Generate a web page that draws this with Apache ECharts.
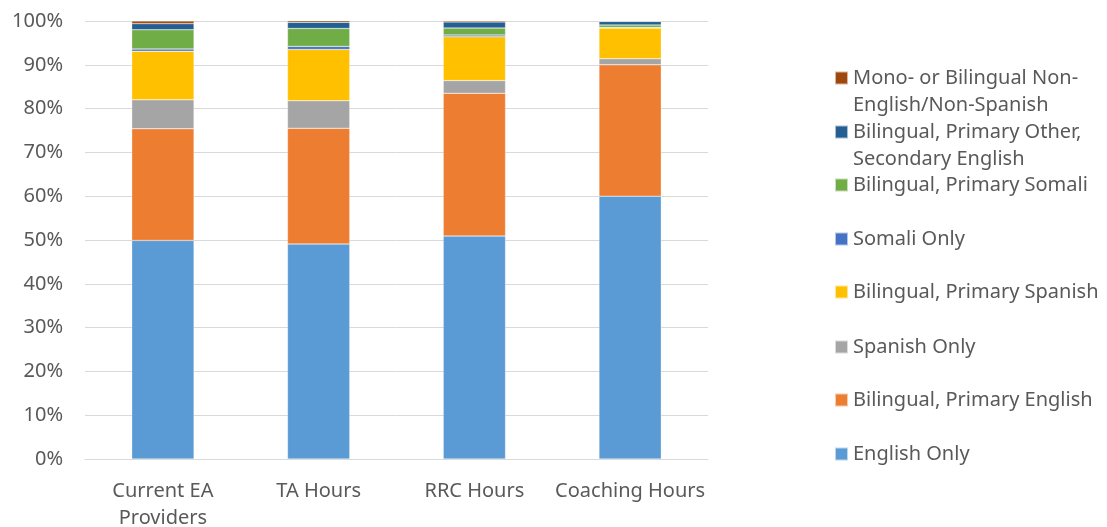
<!DOCTYPE html>
<html>
<head>
<meta charset="utf-8">
<script src="https://cdn.jsdelivr.net/npm/echarts@6/dist/echarts.min.js"></script>
<style>
html,body{margin:0;padding:0;background:#fff;}
#chart{width:1107px;height:527px;}
</style>
</head>
<body>
<div id="chart"></div>
<script>
var categories = ['Current EA\nProviders', 'TA Hours', 'RRC Hours', 'Coaching Hours'];
var seriesNames = ['English Only', 'Bilingual, Primary English', 'Spanish Only', 'Bilingual, Primary Spanish',
  'Somali Only', 'Bilingual, Primary Somali', 'Bilingual, Primary Other,\nSecondary English',
  'Mono- or Bilingual Non-\nEnglish/Non-Spanish'];
var colors = ['#5B9BD5', '#ED7D31', '#A5A5A5', '#FFC000', '#4472C4', '#70AD47', '#255E91', '#9E480E'];

// percent shares per category
var englishOnly      = [49.9, 49.1, 50.9, 60.0];
var biPrimaryEnglish = [25.5, 26.4, 32.6, 30.0];
var spanishOnly      = [6.6, 6.3, 2.9, 1.4];
var biPrimarySpanish = [11.1, 11.7, 10.0, 7.0];
var somaliOnly       = [0.5, 0.7, 0.4, 0.1];
var biPrimarySomali  = [4.4, 4.1, 1.6, 0.6];
var biPrimaryOther   = [1.4, 1.4, 1.4, 0.8];
var monoNonEnglish   = [0.6, 0.4, 0.3, 0.1];
var values = [englishOnly, biPrimaryEnglish, spanishOnly, biPrimarySpanish,
  somaliOnly, biPrimarySomali, biPrimaryOther, monoNonEnglish];

var yTicks = [0, 10, 20, 30, 40, 50, 60, 70, 80, 90, 100];

var font = 'Noto Sans';
var txt = '#595959';

var chart = echarts.init(document.getElementById('chart'));

var series = seriesNames.map(function (n, i) {
  return {
    name: n,
    type: 'bar',
    stack: 'all',
    barWidth: '40%',
    itemStyle: { color: colors[i], borderColor: 'rgba(255,255,255,0.6)', borderWidth: 0.5 },
    data: values[i]
  };
});

// legend: one component per item, top to bottom in reverse series order
var markerY = [78, 132, 185, 239, 292, 347, 400, 454];
var legends = [];
for (var k = 0; k < 8; k++) {
  var idx = 7 - k;
  var twoLine = seriesNames[idx].indexOf('\n') >= 0;
  legends.push({
    orient: 'vertical',
    left: 834,
    top: twoLine ? markerY[k] - 40.5 : markerY[k] - 13.5,
    padding: 0,
    itemWidth: 13,
    itemHeight: 13,
    itemGap: 0,
    selectedMode: false,
    icon: 'rect',
    formatter: function (name) {
      // blank first line keeps the marker level with the first text line
      return name.indexOf('\n') >= 0 ? '\n' + name : name;
    },
    textStyle: { fontFamily: font, fontSize: 20, color: txt, lineHeight: 27 },
    data: [seriesNames[idx]]
  });
}

chart.setOption({
  animation: false,
  color: colors,
  grid: { left: 85, right: 399, top: 21, bottom: 68, containLabel: false, outerBoundsMode: 'none' },
  legend: legends,
  xAxis: {
    type: 'category',
    data: categories,
    axisLine: { lineStyle: { color: '#D9D9D9', width: 1 } },
    axisTick: { show: false },
    axisLabel: { interval: 0, fontFamily: font, fontSize: 20, color: txt, lineHeight: 27, margin: 19 }
  },
  yAxis: {
    type: 'value',
    min: yTicks[0],
    max: yTicks[yTicks.length - 1],
    interval: 10,
    axisLine: { show: false },
    axisTick: { show: false },
    splitLine: { lineStyle: { color: '#D9D9D9', width: 1 } },
    axisLabel: { fontFamily: font, fontSize: 20, color: txt, margin: 22, formatter: '{value}%' }
  },
  series: series
});
</script>
</body>
</html>
